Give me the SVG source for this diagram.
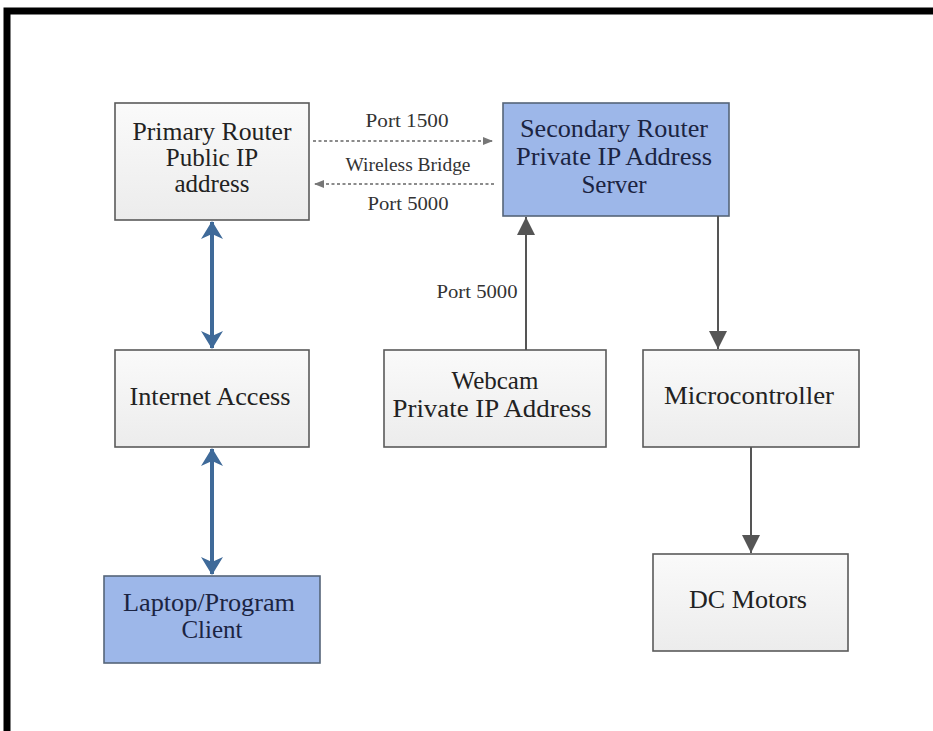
<svg xmlns="http://www.w3.org/2000/svg" width="933" height="731" viewBox="0 0 933 731">
<defs>
<linearGradient id="gray" x1="0" y1="0" x2="0" y2="1">
<stop offset="0" stop-color="#fafafa"/>
<stop offset="1" stop-color="#ececec"/>
</linearGradient>
<marker id="blueHead" viewBox="0 0 18 22" refX="17" refY="11" markerWidth="18" markerHeight="22" markerUnits="userSpaceOnUse" orient="auto-start-reverse">
<path d="M0,0 L18,11 L0,22 L5,11 Z" fill="#3f6a99"/>
</marker>
<marker id="grayHead" viewBox="0 0 18 18" refX="18" refY="9" markerWidth="18" markerHeight="18" markerUnits="userSpaceOnUse" orient="auto">
<path d="M0,0 L18,9 L0,18 Z" fill="#555555"/>
</marker>
<marker id="dashHead" viewBox="0 0 10 10" refX="10" refY="5" markerWidth="10" markerHeight="10" markerUnits="userSpaceOnUse" orient="auto">
<path d="M0,1 L10,5 L0,9 Z" fill="#777777"/>
</marker>
</defs>
<style>
.gbox{fill:url(#gray);stroke:#5a5a5a;stroke-width:1.6}
.bbox{fill:#9db7e9;stroke:#566579;stroke-width:1.6}
text{font-family:'Liberation Serif','Times New Roman','DejaVu Serif',Times,serif}
.t{font-size:25px;text-anchor:middle;fill:#222}
.tb{font-size:25px;text-anchor:middle;fill:#1b2442}
.lbl{font-size:18px;text-anchor:middle;fill:#333}
.blue{stroke:#3f6a99;stroke-width:4;fill:none}
.solid{stroke:#555555;stroke-width:2;fill:none}
.dash{stroke:#666666;stroke-width:1.3;stroke-dasharray:3 2.5;fill:none}
</style>
<rect width="933" height="731" fill="#ffffff"/>
<path d="M7,731 V11 H933" fill="none" stroke="#000" stroke-width="7"/>

<g id="primary-router">
<rect class="gbox" x="115" y="103" width="194" height="117"/>
<text class="t" x="212" y="140" textLength="159" lengthAdjust="spacingAndGlyphs">Primary Router</text>
<text class="t" x="212" y="166">Public IP</text>
<text class="t" x="212" y="192">address</text>
</g>
<g id="secondary-router">
<rect class="bbox" x="503" y="103" width="226" height="113"/>
<text class="tb" x="614" y="137" textLength="188" lengthAdjust="spacingAndGlyphs">Secondary Router</text>
<text class="tb" x="614" y="165" textLength="196" lengthAdjust="spacingAndGlyphs">Private IP Address</text>
<text class="tb" x="614" y="193">Server</text>
</g>
<g id="internet-access">
<rect class="gbox" x="115" y="350" width="194" height="97"/>
<text class="t" x="210" y="405" textLength="161" lengthAdjust="spacingAndGlyphs">Internet Access</text>
</g>
<g id="webcam">
<rect class="gbox" x="384" y="350" width="222" height="97"/>
<text class="t" x="495" y="389">Webcam</text>
<text class="t" x="492" y="417" textLength="199" lengthAdjust="spacingAndGlyphs">Private IP Address</text>
</g>
<g id="microcontroller">
<rect class="gbox" x="643" y="350" width="216" height="97"/>
<text class="t" x="749" y="404" textLength="170" lengthAdjust="spacingAndGlyphs">Microcontroller</text>
</g>
<g id="laptop-client">
<rect class="bbox" x="104" y="576" width="216" height="87"/>
<text class="tb" x="209" y="611" textLength="172" lengthAdjust="spacingAndGlyphs">Laptop/Program</text>
<text class="tb" x="212" y="638">Client</text>
</g>
<g id="dc-motors">
<rect class="gbox" x="653" y="554" width="195" height="97"/>
<text class="t" x="748" y="608" textLength="118" lengthAdjust="spacingAndGlyphs">DC Motors</text>
</g>

<g id="connectors">
<line class="blue" x1="212" y1="222" x2="212" y2="348" marker-start="url(#blueHead)" marker-end="url(#blueHead)"/>
<line class="blue" x1="212" y1="449" x2="212" y2="574" marker-start="url(#blueHead)" marker-end="url(#blueHead)"/>
<line class="dash" x1="313" y1="141" x2="493" y2="141" marker-end="url(#dashHead)"/>
<line class="dash" x1="494" y1="184" x2="314" y2="184" marker-end="url(#dashHead)"/>
<line class="solid" x1="526" y1="350" x2="526" y2="217" marker-end="url(#grayHead)"/>
<line class="solid" x1="718" y1="216" x2="718" y2="349" marker-end="url(#grayHead)"/>
<line class="solid" x1="751" y1="447" x2="751" y2="553" marker-end="url(#grayHead)"/>
<text class="lbl" x="407" y="127" textLength="83" lengthAdjust="spacingAndGlyphs">Port 1500</text>
<text class="lbl" x="408" y="171" textLength="125" lengthAdjust="spacingAndGlyphs">Wireless Bridge</text>
<text class="lbl" x="408" y="210" textLength="81" lengthAdjust="spacingAndGlyphs">Port 5000</text>
<text class="lbl" x="477" y="298" textLength="81" lengthAdjust="spacingAndGlyphs">Port 5000</text>
</g>
</svg>
